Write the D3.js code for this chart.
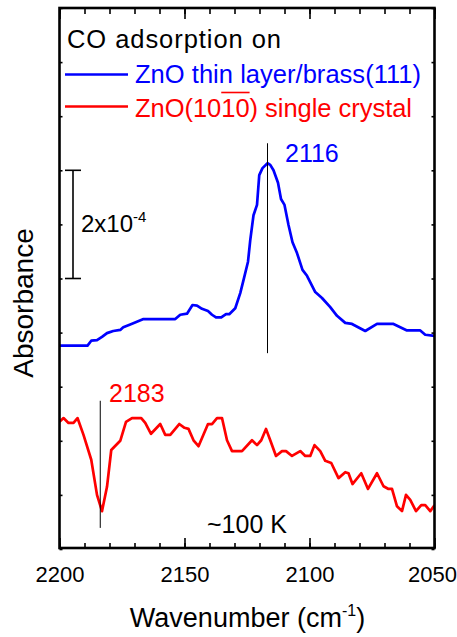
<!DOCTYPE html>
<html lang="en">
<head>
<meta charset="utf-8">
<title>CO adsorption</title>
<script src="https://cdn.jsdelivr.net/npm/d3@7"></script>
<style>
  body { margin: 0; background: #fff; }
  text { font-family: Arial, "Liberation Sans", sans-serif; }
</style>
</head>
<body>
<script>
// wavenumber (cm-1) and absorbance (offset, units of 1e-4)
var blueX = [2200,2188.8,2187.3,2185,2183,2181,2178.5,2175.7,2174.5,2171.7,2166.4,2153.7,2151.7,2149,2146.8,2145,2143,2140.6,2139,2137.4,2135.3,2133.4,2132.1,2129.7,2127.7,2126.4,2124.6,2123.7,2122.4,2121,2120.1,2118.8,2116.8,2115.7,2114.4,2112.6,2111.4,2110,2108.4,2106.8,2105,2102.8,2101,2097.7,2095,2091.7,2089,2085.7,2083,2077.7,2073,2066.4,2061,2055.7,2053.7,2050]
var blueY = [3.76,3.76,3.85,3.86,3.92,3.99,4.03,4.05,4.10,4.15,4.25,4.25,4.33,4.35,4.51,4.50,4.44,4.40,4.33,4.28,4.28,4.34,4.34,4.45,4.73,4.97,5.31,5.71,6.17,6.36,6.91,7.04,7.13,7.10,7.00,6.77,6.47,6.36,5.99,5.67,5.47,5.16,5.05,4.75,4.64,4.47,4.31,4.18,4.16,4.03,4.16,4.16,4.04,4.04,3.96,3.94]

var redX = [2200,2198.4,2196.4,2194.4,2192.8,2190.4,2187.3,2185,2183,2181,2179.3,2175.7,2173.4,2171,2167.3,2165.7,2163.4,2159.7,2157.7,2155.7,2152.1,2150,2148.4,2146.4,2144.4,2140.6,2139,2137,2135,2133,2131,2127,2123,2121,2119.3,2117.4,2115.7,2113.4,2111,2109.4,2107,2103.7,2101.7,2099.7,2098,2095.7,2093.7,2091.3,2088.4,2085.7,2084.4,2082.8,2079.3,2076.6,2073,2070.4,2068.4,2067,2065,2063,2061.4,2059.7,2057.4,2055.3,2053.7,2051.7,2050]
var redY = [2.35,2.42,2.33,2.33,2.42,2.11,1.65,1.00,0.70,1.15,1.83,2.00,2.35,2.42,2.42,2.33,2.13,2.31,2.11,2.11,2.31,2.24,2.22,2.01,1.90,2.31,2.31,2.42,2.42,2.01,1.81,1.81,2.01,1.92,2.01,2.22,2.01,1.72,1.81,1.81,1.72,1.81,1.72,1.72,1.92,1.81,1.63,1.59,1.31,1.42,1.40,1.20,1.40,1.11,1.40,1.16,1.11,1.11,0.79,0.70,1.00,0.91,0.70,0.81,0.81,0.70,0.81]

var xTicks = [2200, 2150, 2100, 2050]
var peakBlue = 2116.8, peakRed = 2183.7

var width = 457, height = 637
var svg = d3.select("body").append("svg").attr("width", width).attr("height", height)

var x = d3.scaleLinear().domain([2200, 2050]).range([59.5, 434.5])
var y = d3.scaleLinear().domain([0, 10]).range([549, 8])

var minor = d3.range(2200, 2049, -10)
var yt = d3.range(0, 11, 1)

// ticks, inward
svg.append("g").attr("transform", "translate(0,548)")
  .call(d3.axisBottom(x).tickValues(minor).tickSize(-5).tickFormat(""))
svg.append("g").attr("transform", "translate(0,548)")
  .call(d3.axisBottom(x).tickValues(xTicks).tickSize(-10).tickPadding(18).tickFormat(d3.format("d")))
  .selectAll("text").style("font-size", "22px")
  .filter(function(d) { return d == 2050 }).attr("text-anchor", "end").attr("x", 22)
svg.append("g").attr("transform", "translate(0,8)")
  .call(d3.axisTop(x).tickValues(minor).tickSize(-6).tickFormat(""))
svg.append("g").attr("transform", "translate(0,8)")
  .call(d3.axisTop(x).tickValues(xTicks).tickSize(-11).tickFormat(""))
svg.append("g").attr("transform", "translate(59.5,0)")
  .call(d3.axisLeft(y).tickValues(yt).tickSize(-3).tickFormat(""))
svg.append("g").attr("transform", "translate(434.5,0)")
  .call(d3.axisRight(y).tickValues(yt).tickSize(-3).tickFormat(""))
svg.selectAll(".domain").remove()
svg.selectAll(".tick line").attr("stroke", "#000").attr("stroke-width", 1.6)
svg.selectAll(".tick text").attr("fill", "#000")

svg.append("clipPath").attr("id", "clip").append("rect")
  .attr("x", 59.5).attr("y", 8).attr("width", 375).attr("height", 540)

var line = d3.line().x(function(d) { return x(d[0]) }).y(function(d) { return y(d[1]) })

svg.append("path").datum(d3.zip(blueX, blueY))
  .attr("d", line).attr("fill", "none").attr("stroke", "#0000ff")
  .attr("stroke-width", 2.7).attr("stroke-linejoin", "round").attr("clip-path", "url(#clip)")
svg.append("path").datum(d3.zip(redX, redY))
  .attr("d", line).attr("fill", "none").attr("stroke", "#ff0000")
  .attr("stroke-width", 2.7).attr("stroke-linejoin", "round").attr("clip-path", "url(#clip)")

// peak markers
svg.append("line").attr("x1", x(peakBlue)).attr("x2", x(peakBlue))
  .attr("y1", y(7.5)).attr("y2", y(3.62)).attr("stroke", "#000").attr("stroke-width", 1)
svg.append("line").attr("x1", x(peakRed)).attr("x2", x(peakRed))
  .attr("y1", y(2.74)).attr("y2", y(0.39)).attr("stroke", "#000").attr("stroke-width", 1)
svg.append("text").attr("x", 285).attr("y", 162).attr("fill", "#0000ff")
  .style("font-size", "25px").text("2116")
svg.append("text").attr("x", 109).attr("y", 402).attr("fill", "#ff0000")
  .style("font-size", "25px").text("2183")
svg.append("text").attr("x", 207).attr("y", 533).attr("fill", "#000")
  .style("font-size", "25px").text("~100 K")

// scale bar 2x10^-4
var sb = svg.append("g").attr("stroke", "#000").attr("stroke-width", 1.6)
sb.append("line").attr("x1", 73).attr("x2", 73).attr("y1", y(7)).attr("y2", y(5))
sb.append("line").attr("x1", 65).attr("x2", 81).attr("y1", y(7)).attr("y2", y(7))
sb.append("line").attr("x1", 65).attr("x2", 81).attr("y1", y(5)).attr("y2", y(5))
var sbt = svg.append("text").attr("x", 81).attr("y", 232).style("font-size", "24px")
sbt.append("tspan").text("2x10")
sbt.append("tspan").attr("dy", -10).style("font-size", "15px").text("-4")

// frame
svg.append("rect").attr("x", 59.5).attr("y", 8).attr("width", 375).attr("height", 540)
  .attr("fill", "none").attr("stroke", "#000").attr("stroke-width", 2.6)

// legend
svg.append("text").attr("x", 67).attr("y", 48).style("font-size", "25.5px")
  .attr("textLength", 214).attr("lengthAdjust", "spacing").text("CO adsorption on")
svg.append("line").attr("x1", 65).attr("x2", 128).attr("y1", 74.5).attr("y2", 74.5)
  .attr("stroke", "#0000ff").attr("stroke-width", 2.7)
svg.append("text").attr("x", 135).attr("y", 83).attr("fill", "#0000ff")
  .style("font-size", "25.5px").attr("textLength", 286).attr("lengthAdjust", "spacing")
  .text("ZnO thin layer/brass(111)")
svg.append("line").attr("x1", 65).attr("x2", 128).attr("y1", 106.5).attr("y2", 106.5)
  .attr("stroke", "#ff0000").attr("stroke-width", 2.7)
var redLbl = svg.append("text").attr("x", 135).attr("y", 116.5).attr("fill", "#ff0000")
  .style("font-size", "25.5px").attr("textLength", 277).attr("lengthAdjust", "spacing")
  .text("ZnO(1010) single crystal")
var n = redLbl.node()
var ox1 = n.getStartPositionOfChar(6).x, ox2 = n.getEndPositionOfChar(7).x
svg.append("line").attr("x1", ox1).attr("x2", ox2).attr("y1", 92.5).attr("y2", 92.5)
  .attr("stroke", "#ff0000").attr("stroke-width", 1.6)

// axis titles
var xt = svg.append("text").attr("x", 247.5).attr("y", 627).attr("text-anchor", "middle")
  .style("font-size", "27px")
xt.append("tspan").text("Wavenumber (cm")
xt.append("tspan").attr("dy", -11).style("font-size", "16px").text("-1")
xt.append("tspan").attr("dy", 11).text(")")
svg.append("text").attr("transform", "translate(33,303) rotate(-90)").attr("text-anchor", "middle")
  .style("font-size", "28px").text("Absorbance")
</script>
</body>
</html>
